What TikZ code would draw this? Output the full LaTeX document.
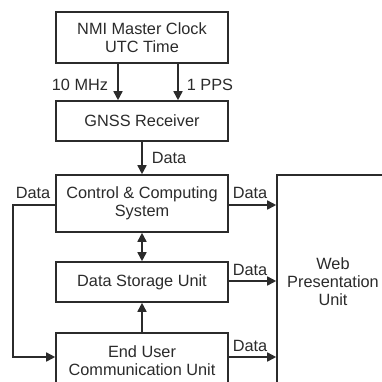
\documentclass[tikz,border=0pt]{standalone}
\usepackage{fontspec}
\setmainfont{Liberation Sans}
\usetikzlibrary{arrows.meta}
\definecolor{ink}{HTML}{2B2B2B}
\begin{document}
\begin{tikzpicture}[x=1pt,y=-1pt,
  box/.style={draw=ink,line width=1.6pt,rectangle,inner sep=0pt,align=center,text=ink,
    font=\fontsize{16.3}{18}\selectfont},
  lbl/.style={text=ink,inner sep=0pt,font=\fontsize{16.3}{18}\selectfont},
  conn/.style={draw=ink,line width=1.6pt,-{Triangle[length=9pt,width=9pt]}},
  dconn/.style={draw=ink,line width=1.6pt,{Triangle[length=9pt,width=9pt]}-{Triangle[length=9pt,width=9pt]}}]
\useasboundingbox (0,0) rectangle (382,381);
\fill[white] (0,0) rectangle (382,381);
\node[box,minimum width=172pt,minimum height=51pt] (nmi) at (142,37.5) {NMI Master Clock\\UTC Time};
\node[box,minimum width=172pt,minimum height=40pt] (gnss) at (142,121) {GNSS Receiver};
\node[box,minimum width=172pt,minimum height=57pt] (ctrl) at (142,203.5) {Control \& Computing\\System};
\node[box,minimum width=172pt,minimum height=40pt] (store) at (142,282) {Data Storage Unit};
\node[box,minimum width=172pt,minimum height=56pt] (user) at (142,361) {End User\\Communication Unit};
\node[box,minimum width=112pt,minimum height=214pt] (web) at (333,282) {Web\\Presentation\\Unit};
% clock to receiver
\draw[conn] (118,63) coordinate (a1) -- (a1 |- gnss.north);
\draw[conn] (178,63) coordinate (a2) -- (a2 |- gnss.north);
\node[lbl] (l10) at (80,85) {10 MHz};
\node[lbl] (l1pps) at (210,85) {1 PPS};
% receiver to control
\draw[conn] (gnss) -- (ctrl);
\node[lbl] (ldata1) at (169,158) {Data};
% control <-> storage
\draw[dconn] (ctrl) -- (store);
% user -> storage
\draw[conn] (user) -- (store);
% left loop
\coordinate (cl) at (ctrl.west |- 0,205);
\coordinate (ul) at (user.west |- 0,357);
\draw[conn] (cl) -- (13,205) -- (13,357) -- (ul);
\node[lbl] (ldata2) at (33,193) {Data};
% to web
\draw[conn] (cl -| ctrl.east) -- (cl -| web.west);
\node[lbl] (ldata3) at (250,193) {Data};
\draw[conn] (store.east |- 0,281) -- (web.west |- 0,281);
\node[lbl] (ldata4) at (250,270) {Data};
\draw[conn] (ul -| user.east) -- (ul -| web.west);
\node[lbl] (ldata5) at (250,346) {Data};
\end{tikzpicture}
\end{document}
